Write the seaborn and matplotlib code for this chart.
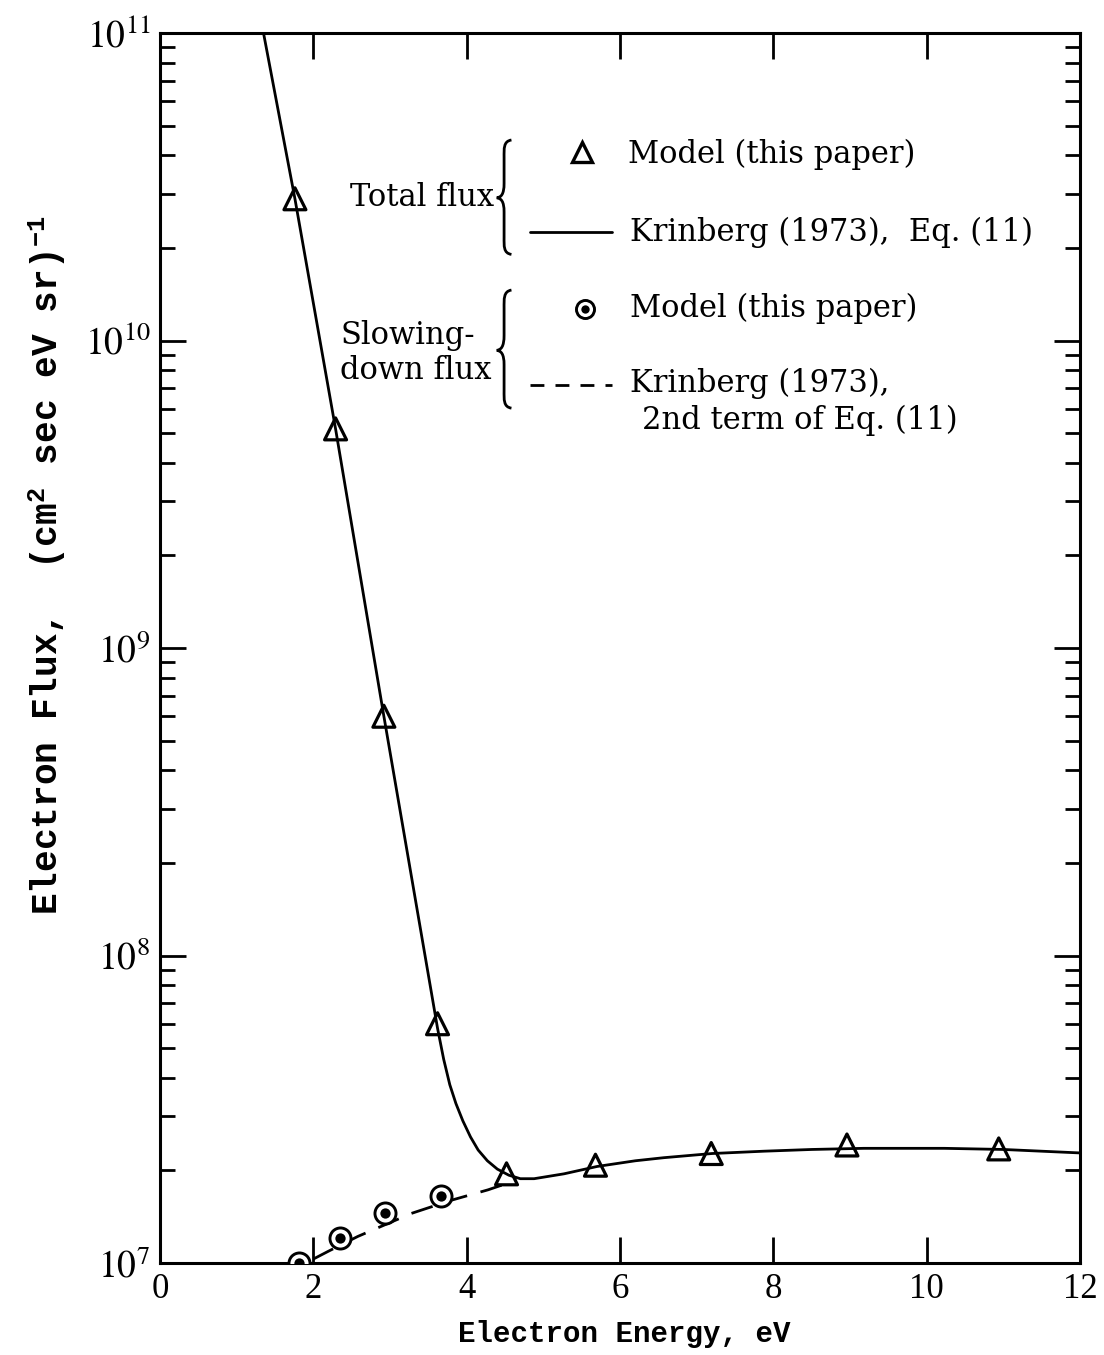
import matplotlib
matplotlib.use("Agg")
import matplotlib.pyplot as plt
import seaborn as sns
import pandas as pd
from matplotlib.path import Path
from matplotlib.patches import PathPatch
from matplotlib.lines import Line2D
from matplotlib.ticker import LogLocator, NullFormatter, FixedLocator

# ---- data -------------------------------------------------------------
# Total flux, model (this paper)
total_model_energy = [1.76, 2.29, 2.92, 3.62, 4.52, 5.68, 7.19, 8.96, 10.94]
total_model_flux = [2.89e10, 5.16e9, 6.0e8, 6.0e7, 1.95e7, 2.08e7, 2.27e7, 2.42e7, 2.35e7]

# Slowing-down flux, model (this paper)
slow_model_energy = [1.81, 2.35, 2.94, 3.66]
slow_model_flux = [1.0e7, 1.21e7, 1.45e7, 1.65e7]

# Krinberg (1973), Eq. (11)
krinberg_total_energy = [1.35, 1.76, 2.29, 2.92, 3.62, 3.70, 3.78, 3.86, 3.95, 4.05,
                         4.15, 4.27, 4.40, 4.55, 4.70, 4.88, 5.27, 5.70, 6.20, 6.57,
                         7.20, 7.88, 8.50, 9.18, 10.23, 11.00, 12.00]
krinberg_total_flux = [1.0e11, 2.89e10, 5.16e9, 6.0e8, 5.8e7, 4.6e7, 3.8e7, 3.3e7, 2.9e7, 2.57e7,
                       2.33e7, 2.15e7, 2.02e7, 1.93e7, 1.88e7, 1.88e7, 1.95e7, 2.06e7, 2.15e7, 2.2e7,
                       2.27e7, 2.31e7, 2.34e7, 2.36e7, 2.36e7, 2.34e7, 2.28e7]

# Krinberg (1973), 2nd term of Eq. (11)
krinberg_slow_energy = [2.0, 2.19, 2.58, 3.28, 3.80, 4.28, 4.65]
krinberg_slow_flux = [1.03e7, 1.09e7, 1.22e7, 1.45e7, 1.60e7, 1.73e7, 1.86e7]

x_ticks = [0, 2, 4, 6, 8, 10, 12]
x_tick_labels = ["0", "2", "4", "6", "8", "10", "12"]
y_ticks = [1e7, 1e8, 1e9, 1e10, 1e11]
y_tick_labels = [r"$10^{7}$", r"$10^{8}$", r"$10^{9}$", r"$10^{10}$", r"$10^{11}$"]

# ---- style ------------------------------------------------------------
sns.set_style("ticks")
plt.rcParams["font.family"] = ["DejaVu Serif"]
plt.rcParams["mathtext.fontset"] = "stix"
plt.rcParams["axes.linewidth"] = 2.2
for key in ["text.color", "axes.labelcolor", "xtick.color", "ytick.color", "axes.edgecolor"]:
    plt.rcParams[key] = "black"

fig = plt.figure(figsize=(11.04, 13.55), dpi=100)
ax = fig.add_axes([160 / 1104, 1 - 1263 / 1355, 920 / 1104, 1230 / 1355])

LW = 2.0

curve_total = pd.DataFrame({"energy": krinberg_total_energy, "flux": krinberg_total_flux})
curve_slow = pd.DataFrame({"energy": krinberg_slow_energy, "flux": krinberg_slow_flux})
pts_total = pd.DataFrame({"energy": total_model_energy, "flux": total_model_flux})
pts_slow = pd.DataFrame({"energy": slow_model_energy, "flux": slow_model_flux})

sns.lineplot(data=curve_total, x="energy", y="flux", ax=ax, color="black",
             linewidth=LW, sort=False, estimator=None, zorder=2)
sns.lineplot(data=curve_slow, x="energy", y="flux", ax=ax, color="black",
             linewidth=LW, sort=False, estimator=None, zorder=2)
ax.lines[-1].set_dashes((8, 5))

sns.scatterplot(data=pts_total, x="energy", y="flux", ax=ax, marker="^", s=250,
                facecolors="none", edgecolor="black", linewidth=2.3, zorder=4)
sns.scatterplot(data=pts_slow, x="energy", y="flux", ax=ax, marker="o", s=230,
                color="white", edgecolor="black", linewidth=2.1, zorder=4)
sns.scatterplot(data=pts_slow, x="energy", y="flux", ax=ax, marker="o", s=55,
                color="black", edgecolor="black", linewidth=0, zorder=5)

# ---- axes -------------------------------------------------------------
ax.set_yscale("log")
ax.set_xlim(0, 12)
ax.set_ylim(1e7, 1e11)
ax.xaxis.set_major_locator(FixedLocator(x_ticks))
ax.set_xticklabels(x_tick_labels, fontfamily="Liberation Serif", fontsize=25)
ax.yaxis.set_major_locator(FixedLocator(y_ticks))
ax.set_yticklabels(y_tick_labels, fontsize=27)
ax.yaxis.set_minor_locator(LogLocator(base=10, subs=range(2, 10), numticks=20))
ax.yaxis.set_minor_formatter(NullFormatter())
for side in ["top", "right", "left", "bottom"]:
    ax.spines[side].set_visible(True)
ax.tick_params(axis="both", which="both", direction="in", top=True, right=True, width=2.0)
ax.tick_params(axis="both", which="major", length=19, pad=7)
ax.tick_params(axis="y", which="minor", length=11)

ax.set_xlabel("Electron Energy, eV", fontsize=21, fontfamily="Liberation Mono",
              fontweight="bold")
ax.xaxis.set_label_coords(0.505, -0.046)
ax.set_ylabel(r"Electron Flux,  (cm$^{\mathdefault{2}}$ sec eV sr)$^{\mathdefault{-1}}$",
              fontsize=26, fontfamily="Liberation Mono", fontweight="bold")
ax.yaxis.set_label_coords(-0.100, 0.567)


# ---- key --------------------------------------------------------------
def brace(ax, x, y_top, y_cusp, y_bot, w):
    ht = y_top - y_cusp
    hb = y_cusp - y_bot
    verts = [
        (x + w, y_top),
        (x + 0.45 * w, y_top - 0.02 * ht), (x + 0.5 * w, y_top - 0.15 * ht), (x + 0.5 * w, y_top - 0.3 * ht),
        (x + 0.5 * w, y_cusp + 0.25 * ht),
        (x + 0.5 * w, y_cusp + 0.06 * ht), (x + 0.3 * w, y_cusp + 0.01 * ht), (x, y_cusp),
        (x + 0.3 * w, y_cusp - 0.01 * hb), (x + 0.5 * w, y_cusp - 0.06 * hb), (x + 0.5 * w, y_cusp - 0.25 * hb),
        (x + 0.5 * w, y_bot + 0.3 * hb),
        (x + 0.5 * w, y_bot + 0.15 * hb), (x + 0.45 * w, y_bot + 0.02 * hb), (x + w, y_bot),
    ]
    codes = [Path.MOVETO,
             Path.CURVE4, Path.CURVE4, Path.CURVE4,
             Path.LINETO,
             Path.CURVE4, Path.CURVE4, Path.CURVE4,
             Path.CURVE4, Path.CURVE4, Path.CURVE4,
             Path.LINETO,
             Path.CURVE4, Path.CURVE4, Path.CURVE4]
    ax.add_patch(PathPatch(Path(verts, codes), transform=ax.transAxes, fill=False,
                           edgecolor="black", linewidth=2.0, clip_on=False, zorder=6))


T = ax.transAxes
fs = 22
ax.text(0.363, 0.866, "Total flux", transform=T, ha="right", va="center", fontsize=fs)
brace(ax, 0.366, 0.913, 0.866, 0.820, 0.016)
ax.add_line(Line2D([0.459], [0.903], transform=T, marker="^", markersize=14,
                   markerfacecolor="none", markeredgecolor="black", markeredgewidth=2.4,
                   linestyle="none"))
ax.text(0.509, 0.901, "Model (this paper)", transform=T, ha="left", va="center", fontsize=fs)
ax.add_line(Line2D([0.402, 0.491], [0.838, 0.838], transform=T, color="black", linewidth=LW))
ax.text(0.511, 0.838, "Krinberg (1973),  Eq. (11)", transform=T, ha="left", va="center", fontsize=fs)

ax.text(0.196, 0.754, "Slowing-", transform=T, ha="left", va="center", fontsize=fs)
ax.text(0.196, 0.726, "down flux", transform=T, ha="left", va="center", fontsize=fs)
brace(ax, 0.366, 0.791, 0.742, 0.695, 0.016)
ax.add_line(Line2D([0.462], [0.776], transform=T, marker="o", markersize=13,
                   markerfacecolor="white", markeredgecolor="black", markeredgewidth=2.1,
                   linestyle="none"))
ax.add_line(Line2D([0.462], [0.776], transform=T, marker="o", markersize=6,
                   markerfacecolor="black", markeredgewidth=0, linestyle="none"))
ax.text(0.511, 0.776, "Model (this paper)", transform=T, ha="left", va="center", fontsize=fs)
dash_key = Line2D([0.402, 0.491], [0.714, 0.714], transform=T, color="black", linewidth=LW)
dash_key.set_dashes((5, 4))
ax.add_line(dash_key)
ax.text(0.511, 0.715, "Krinberg (1973),", transform=T, ha="left", va="center", fontsize=fs)
ax.text(0.524, 0.685, "2nd term of Eq. (11)", transform=T, ha="left", va="center", fontsize=fs)

fig.savefig("out.png", dpi=100)
